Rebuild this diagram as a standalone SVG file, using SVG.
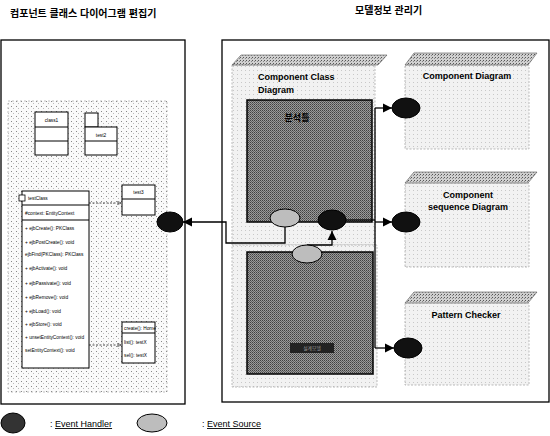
<svg xmlns="http://www.w3.org/2000/svg" width="550" height="436" viewBox="0 0 550 436">
<defs>
<style>
text{font-family:"Liberation Sans","Noto Sans CJK KR",sans-serif;fill:#000}
.title{font-size:10px;font-weight:bold}
.lbl{font-size:9px;font-weight:bold}
.tiny{font-size:4.8px}
.frame{fill:#fff;stroke:#000;stroke-width:1.3}
.canvas{fill:url(#dots);stroke:#999;stroke-width:0.6;stroke-dasharray:2 2}
.cls{fill:#fff;stroke:#000;stroke-width:1}
.cont{fill:url(#speck);stroke:#aaa;stroke-width:0.8;stroke-dasharray:2 1.5}
.hdr{fill:url(#hatch);stroke:#555;stroke-width:0.6}
.dark{fill:url(#darkp);stroke:#000;stroke-width:1.5}
.handler{fill:#111;stroke:#000}
.source{fill:#bdbdbd;stroke:#000;stroke-width:1}
.conn{fill:none;stroke:#000;stroke-width:1.3}
.dep{fill:none;stroke:#000;stroke-width:0.7;stroke-dasharray:2 1.5}
</style>
<pattern id="dots" width="5" height="5" patternUnits="userSpaceOnUse">
<rect width="5" height="5" fill="#fafafa"/>
<rect x="1" y="1" width="1" height="1" fill="#888"/>
<rect x="3" y="3" width="1" height="1" fill="#bbb"/>
</pattern>
<pattern id="speck" width="4" height="4" patternUnits="userSpaceOnUse">
<rect width="4" height="4" fill="#f2f2f2"/>
<rect x="1" y="2" width="1" height="1" fill="#c8c8c8"/>
</pattern>
<pattern id="hatch" width="3" height="3" patternUnits="userSpaceOnUse">
<rect width="3" height="3" fill="#d0d0d0"/>
<rect x="0" y="0" width="1" height="1" fill="#555"/>
<rect x="2" y="1" width="1" height="1" fill="#888"/>
</pattern>
<pattern id="darkp" width="2" height="2" patternUnits="userSpaceOnUse">
<rect width="2" height="2" fill="#9a9a9a"/>
<rect x="0" y="0" width="1" height="1" fill="#404040"/>
<rect x="1" y="1" width="1" height="1" fill="#606060"/>
</pattern>
<marker id="arr" viewBox="0 0 10 10" refX="10" refY="5" markerWidth="7" markerHeight="7" orient="auto">
<path d="M0,0 L10,5 L0,10 z" fill="#000"/>
</marker>
<marker id="open" viewBox="0 0 10 10" refX="10" refY="5" markerWidth="6" markerHeight="6" orient="auto">
<path d="M0,0 L10,5 L0,10" fill="none" stroke="#000" stroke-width="1.2"/>
</marker>
</defs>
<rect width="550" height="436" fill="#fff"/>

<text class="title" x="10" y="17">컴포넌트 클래스 다이어그램 편집기</text>
<text class="title" x="355" y="14">모델정보 관리기</text>

<!-- Left panel: component class diagram editor -->
<g id="editor">
<rect class="frame" x="1" y="40" width="184" height="364"/>
<rect class="canvas" x="8" y="101" width="159" height="291"/>
<g id="class1">
<rect class="cls" x="35" y="112" width="33" height="43"/>
<line x1="35" y1="127" x2="68" y2="127" stroke="#000"/>
<line x1="35" y1="141" x2="68" y2="141" stroke="#000"/>
<text class="tiny" x="51.5" y="122" text-anchor="middle">class1</text>
</g>
<g id="test2">
<rect class="cls" x="85" y="113" width="13" height="14"/>
<rect class="cls" x="85" y="127" width="32" height="28"/>
<line x1="85" y1="141" x2="117" y2="141" stroke="#000"/>
<text class="tiny" x="101" y="137" text-anchor="middle">test2</text>
</g>
<g id="test3">
<rect class="cls" x="122" y="185" width="33" height="30"/>
<line x1="122" y1="199" x2="155" y2="199" stroke="#000"/>
<text class="tiny" x="138.5" y="194" text-anchor="middle">test3</text>
</g>
<g id="testClass">
<rect class="cls" x="22" y="191" width="67" height="177"/>
<line x1="22" y1="205" x2="89" y2="205" stroke="#000"/>
<line x1="22" y1="220" x2="89" y2="220" stroke="#000"/>
<rect x="19" y="195" width="6" height="6" fill="#fff" stroke="#000" stroke-width="0.8"/>
<text class="tiny" x="28" y="200">testClass</text>
<text class="tiny" x="25" y="215">#context: EntityContext</text>
<text class="tiny" x="25" y="230">+ ejbCreate(): PKClass</text>
<text class="tiny" x="25" y="244">+ ejbPostCreate(): void</text>
<text class="tiny" x="25" y="256">ejbFind(PKClass): PKClass</text>
<text class="tiny" x="25" y="270">+ ejbActivate(): void</text>
<text class="tiny" x="25" y="285">+ ejbPassivate(): void</text>
<text class="tiny" x="25" y="299">+ ejbRemove(): void</text>
<text class="tiny" x="25" y="313">+ ejbLoad(): void</text>
<text class="tiny" x="25" y="326">+ ejbStore(): void</text>
<text class="tiny" x="25" y="339">+ unsetEntityContext(): void</text>
<text class="tiny" x="25" y="352">setEntityContext(): void</text>
</g>
<g id="testHome">
<rect class="cls" x="122" y="322" width="33" height="41"/>
<line x1="122" y1="333" x2="155" y2="333" stroke="#000"/>
<text class="tiny" x="124" y="330">create(): Home</text>
<text class="tiny" x="124" y="344">list(): testX</text>
<text class="tiny" x="124" y="357">sel(): testX</text>
</g>
<path class="dep" d="M89,203 H121" marker-end="url(#open)"/>
<path class="dep" d="M89,345 H121" marker-end="url(#open)"/>
</g>

<!-- Right panel: model information manager -->
<g id="manager">
<rect class="frame" x="222" y="40" width="327" height="362"/>
</g>

<g id="classDiagramModel">
<rect class="cont" x="232" y="65" width="143" height="180"/>
<polygon class="hdr" points="232,65 241,55 387,55 378,65"/>
<text class="lbl" x="258" y="80">Component Class</text>
<text class="lbl" x="258" y="93">Diagram</text>
<rect class="dark" x="247" y="100" width="125" height="122"/>
<text class="lbl" x="297" y="121" text-anchor="middle">분석틀</text>
</g>

<g id="designModel">
<rect class="cont" x="232" y="245" width="145" height="142"/>
<rect class="dark" x="247" y="252" width="126" height="122"/>
<rect x="290" y="343" width="44" height="10" fill="#222"/>
<text class="tiny" x="312" y="350" text-anchor="middle" style="fill:#999">설계모델</text>
</g>

<g id="componentDiagram">
<rect class="cont" x="405" y="65" width="124" height="84"/>
<polygon class="hdr" points="405,65 414,53 537,53 528,65"/>
<text class="lbl" x="467" y="79" text-anchor="middle">Component Diagram</text>
</g>

<g id="sequenceDiagram">
<rect class="cont" x="405" y="183" width="124" height="84"/>
<polygon class="hdr" points="405,183 414,172 537,172 528,183"/>
<text class="lbl" x="468" y="198" text-anchor="middle">Component</text>
<text class="lbl" x="468" y="210" text-anchor="middle">sequence Diagram</text>
</g>

<g id="patternChecker">
<rect class="cont" x="405" y="303" width="124" height="82"/>
<polygon class="hdr" points="405,303 414,292 537,292 528,303"/>
<text class="lbl" x="466" y="318" text-anchor="middle">Pattern Checker</text>
</g>

<!-- Connectors -->
<g id="connectors">
<path class="conn" d="M285,227 V243 H226 V222 H183" marker-end="url(#arr)"/>
<path class="conn" d="M307,245 H332 V231" marker-end="url(#arr)"/>
<path class="conn" d="M346,220 H375"/>
<path class="conn" d="M375,108 V348"/>
<path class="conn" d="M375,108 H392" marker-end="url(#arr)"/>
<path class="conn" d="M375,222 H392" marker-end="url(#arr)"/>
<path class="conn" d="M375,348 H394" marker-end="url(#arr)"/>
</g>

<!-- Event handlers and sources -->
<g id="handlerEditor"><ellipse class="handler" cx="170" cy="222" rx="13" ry="10"/></g>
<g id="sourceClass"><ellipse class="source" cx="285" cy="218" rx="15" ry="9"/></g>
<g id="handlerModel"><ellipse class="handler" cx="332" cy="220" rx="14" ry="10"/></g>
<g id="sourceDesign"><ellipse class="source" cx="307" cy="254" rx="15" ry="9"/></g>
<g id="handlerComponent"><ellipse class="handler" cx="406" cy="108" rx="14" ry="10"/></g>
<g id="handlerSequence"><ellipse class="handler" cx="406" cy="222" rx="14" ry="10"/></g>
<g id="handlerPattern"><ellipse class="handler" cx="408" cy="348" rx="14" ry="10"/></g>

<!-- Legend -->
<g id="legend">
<ellipse class="handler" cx="13" cy="423" rx="12" ry="10" style="fill:#333"/>
<text x="50" y="427" style="font-size:9px">: <tspan text-decoration="underline">Event Handler</tspan></text>
<ellipse class="source" cx="152" cy="423" rx="15" ry="9"/>
<text x="202" y="427" style="font-size:9px">: <tspan text-decoration="underline">Event Source</tspan></text>
</g>
</svg>
